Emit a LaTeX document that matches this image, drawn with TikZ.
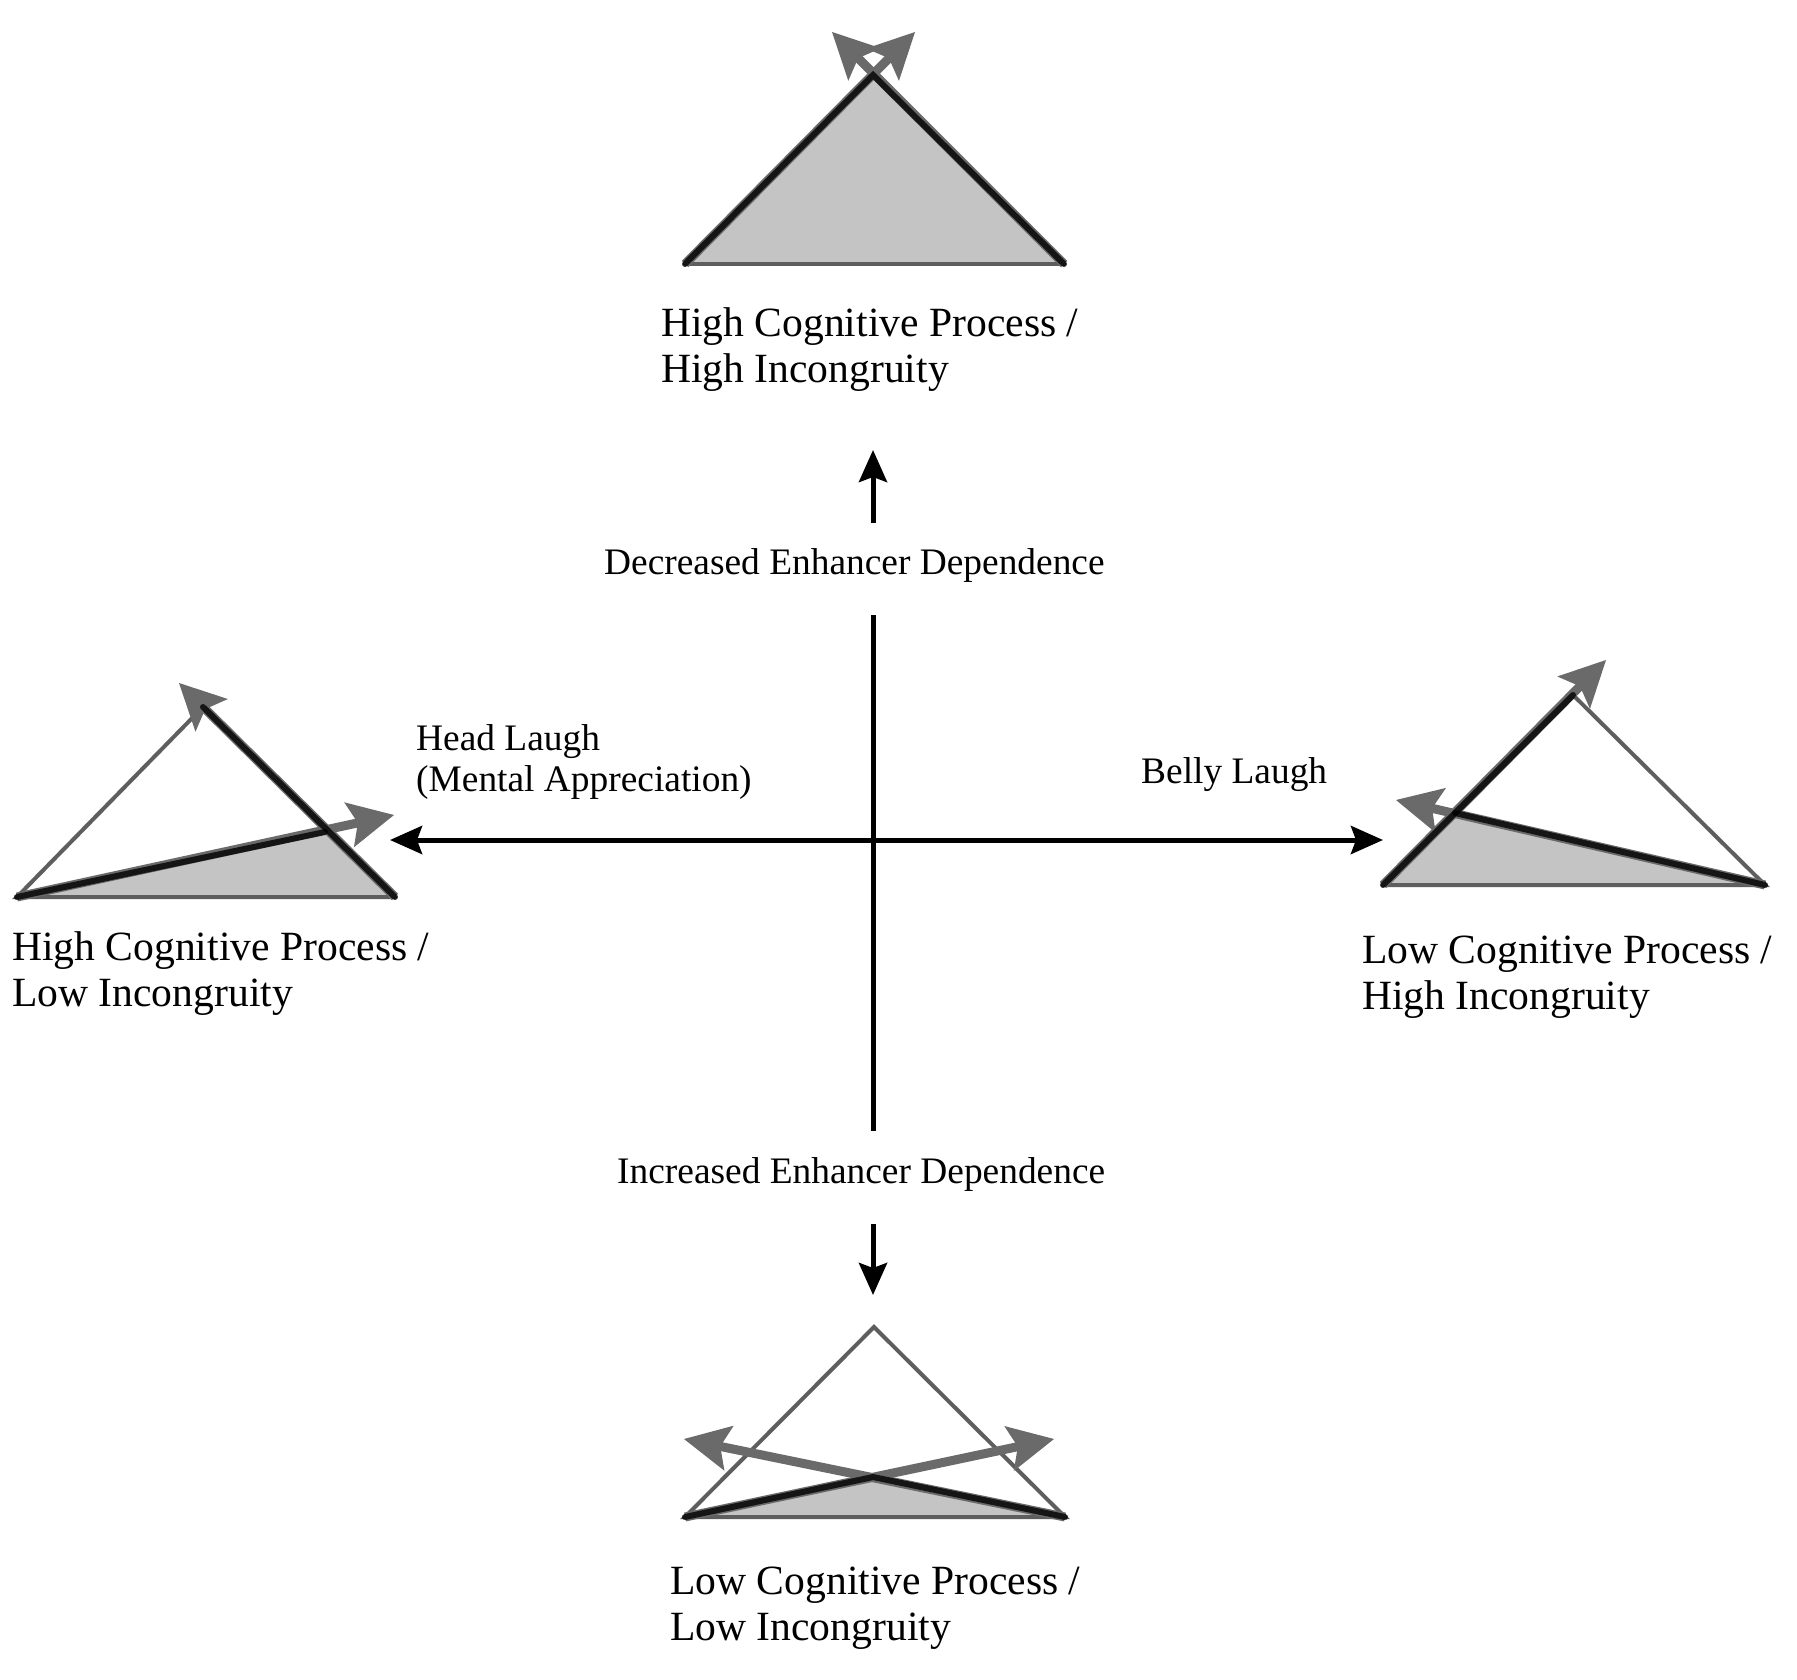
\documentclass[tikz,border=0pt]{standalone}
\usepackage{fontspec}
\setmainfont{Liberation Serif}
\usetikzlibrary{arrows.meta}
\definecolor{fillgray}{HTML}{C4C4C4}
\definecolor{edgegray}{HTML}{5E5E5E}
\definecolor{arrowgray}{HTML}{6A6A6A}
\begin{document}
\begin{tikzpicture}[x=1pt,y=-1pt,
  big/.style={font=\fontsize{41.6}{46}\selectfont, align=left, inner sep=0pt, anchor=base west},
  small/.style={font=\fontsize{37.4}{41}\selectfont, align=left, inner sep=0pt, anchor=base west},
  axisline/.style={line width=5pt, draw=black},
  axtip/.style={-{Stealth[length=32pt,width=28pt,inset=5pt]}},
  thinedge/.style={line width=4pt, draw=edgegray, line cap=round},
  mover/.style={line width=6pt, draw=black, opacity=0.8, line cap=round},
  garrow/.style={line width=9pt, draw=arrowgray, -{Stealth[length=46pt,width=46pt,inset=9pt,line width=0pt]}},
  shade/.style={fill=fillgray}
]
\useasboundingbox (0,0) rectangle (1797,1680);
\fill[white] (0,0) rectangle (1797,1680);

% ---------- axes ----------
\coordinate (vt) at (873,615);
\coordinate (vb) at (873,1131);
\coordinate (hl) at (390,840);
\coordinate (hr) at (1383,840);
\coordinate (ua1) at (873,523);
\coordinate (ua2) at (873,450);
\coordinate (da1) at (873,1224);
\coordinate (da2) at (873,1295);
\draw[axisline] (vt) -- (vb);
\draw[axisline, {Stealth[length=32pt,width=28pt,inset=5pt]}-{Stealth[length=32pt,width=28pt,inset=5pt]}] (hl) -- (hr);
\draw[axisline, axtip] (ua1) -- (ua2);
\draw[axisline, axtip] (da1) -- (da2);

% ---------- top triangle ----------
\coordinate (tA) at (685,264);
\coordinate (tB) at (1064,264);
\coordinate (tC) at (873,75);
\coordinate (tT1) at (915,32);
\coordinate (tT2) at (832,32);
\fill[shade] (tA) -- (tC) -- (tB) -- cycle;
\draw[thinedge] (tA) -- (tB);
\draw[garrow] (tA) -- (tT1);
\draw[garrow] (tB) -- (tT2);
\draw[mover] (tA) -- (tC) -- (tB);

% ---------- left triangle ----------
\coordinate (lA) at (17,897);
\coordinate (lB) at (395,897);
\coordinate (lC) at (203,707);
\coordinate (lP) at (325,832);
\coordinate (lT1) at (179,683);
\coordinate (lT2) at (394,815);
\fill[shade] (lA) -- (lP) -- (lB) -- cycle;
\draw[thinedge] (lB) -- (lA) -- (lC);
\draw[garrow] (lB) -- (lT1);
\draw[garrow] (lA) -- (lT2);
\draw[mover] (lB) -- (lC);
\draw[mover] (lA) -- (lP);

% ---------- right triangle ----------
\coordinate (rA) at (1383,885);
\coordinate (rB) at (1765,885);
\coordinate (rC) at (1573,695);
\coordinate (rP) at (1455,813);
\coordinate (rT1) at (1606,660);
\coordinate (rT2) at (1396,800);
\fill[shade] (rA) -- (rP) -- (rB) -- cycle;
\draw[thinedge] (rA) -- (rB) -- (rC);
\draw[garrow] (rA) -- (rT1);
\draw[garrow] (rB) -- (rT2);
\draw[mover] (rA) -- (rC);
\draw[mover] (rB) -- (rP);

% ---------- bottom triangle ----------
\coordinate (bA) at (685,1517);
\coordinate (bB) at (1065,1517);
\coordinate (bC) at (874,1327);
\coordinate (bP) at (873,1477);
\coordinate (bT1) at (1054,1439);
\coordinate (bT2) at (684,1439);
\fill[shade] (bA) -- (bP) -- (bB) -- cycle;
\draw[thinedge] (bA) -- (bB) -- (bC) -- cycle;
\draw[garrow] (bA) -- (bT1);
\draw[garrow] (bB) -- (bT2);
\draw[mover] (bA) -- (bP) -- (bB);

% ---------- texts ----------
\node[big] (ttext) at (661,382) {High Cognitive Process /\\High Incongruity};
\node[small] (dec) at (604,574) {Decreased Enhancer Dependence};
\node[small] (head) at (416,791) {Head Laugh\\(Mental Appreciation)};
\node[small] (belly) at (1141,783) {Belly Laugh};
\node[big] (ltext) at (12,1006) {High Cognitive Process /\\Low Incongruity};
\node[big] (rtext) at (1362,1009) {Low Cognitive Process /\\High Incongruity};
\node[small] (inc) at (617,1183) {Increased Enhancer Dependence};
\node[big] (btext) at (670,1640) {Low Cognitive Process /\\Low Incongruity};
\end{tikzpicture}
\end{document}
